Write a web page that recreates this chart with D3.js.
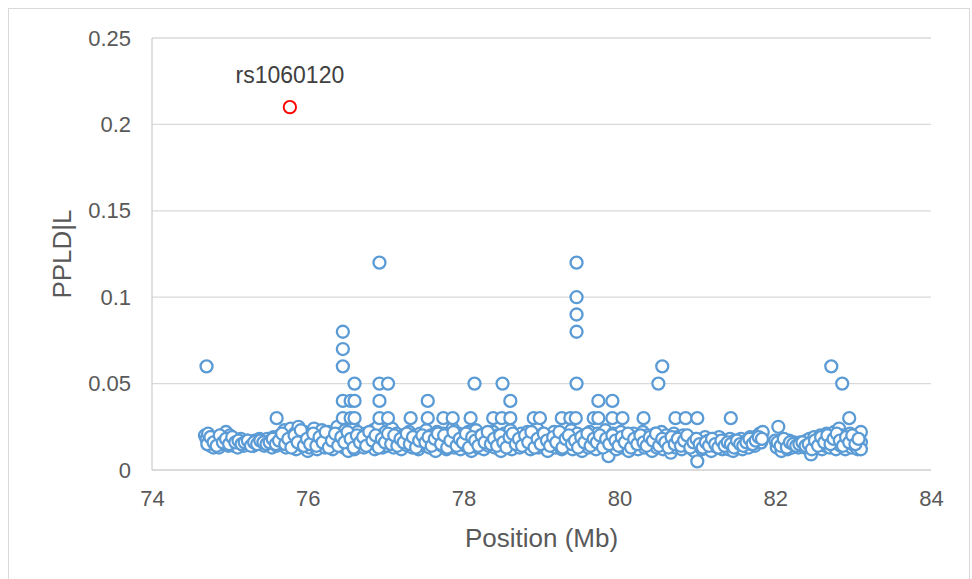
<!DOCTYPE html>
<html><head><meta charset="utf-8">
<script src="https://cdn.jsdelivr.net/npm/d3@7"></script>
<style>body{margin:0;background:#fff;font-family:"Liberation Sans",Arial,sans-serif;}</style>
</head><body>
<script>
// ---- data ----
const xTicks = [74, 76, 78, 80, 82, 84];
const yTicks = [0, 0.05, 0.1, 0.15, 0.2, 0.25];
const yTickLabels = ["0", "0.05", "0.1", "0.15", "0.2", "0.25"];

// dense background cluster (position Mb, PPLD|L)
const clusterPos = [74.68,74.70,74.72,74.73,74.75,74.76,74.78,74.79,74.80,74.82,74.83,74.85,74.86,74.88,74.90,74.92,74.95,74.96,74.98,75.00,75.02,75.04,75.05,75.07,75.09,75.10,75.12,75.14,75.16,75.18,75.20,75.22,75.25,75.27,75.30,75.32,75.34,75.36,75.38,75.40,75.42,75.44,75.46,75.48,75.50,75.52,75.54,75.56,75.58,75.60,75.62,75.64,75.66,75.70,75.72,75.75,75.78,75.80,75.83,75.85,75.88,75.90,75.93,75.95,75.98,76.00,76.02,76.04,76.06,76.08,76.10,76.12,76.14,76.16,76.18,76.20,76.22,76.24,76.26,76.28,76.30,76.32,76.34,76.36,76.38,76.40,76.42,76.44,76.46,76.48,76.50,76.52,76.54,76.56,76.58,76.60,76.62,76.64,76.66,76.68,76.70,76.72,76.74,76.76,76.78,76.80,76.82,76.84,76.86,76.88,76.90,76.92,76.94,76.96,76.98,77.00,77.02,77.04,77.06,77.08,77.10,77.12,77.14,77.16,77.18,77.20,77.22,77.24,77.26,77.28,77.30,77.32,77.34,77.36,77.38,77.40,77.42,77.44,77.46,77.48,77.50,77.52,77.54,77.56,77.58,77.60,77.62,77.64,77.66,77.68,77.70,77.72,77.74,77.76,77.78,77.80,77.82,77.84,77.86,77.88,77.90,77.92,77.94,77.96,77.98,78.00,78.02,78.04,78.06,78.08,78.10,78.12,78.14,78.16,78.18,78.20,78.22,78.24,78.26,78.28,78.30,78.32,78.34,78.36,78.38,78.40,78.42,78.44,78.46,78.48,78.50,78.52,78.54,78.56,78.58,78.60,78.62,78.64,78.66,78.68,78.70,78.72,78.74,78.76,78.78,78.80,78.82,78.84,78.86,78.88,78.90,78.92,78.94,78.96,78.98,79.00,79.02,79.04,79.06,79.08,79.10,79.12,79.14,79.16,79.18,79.20,79.22,79.24,79.26,79.28,79.30,79.32,79.34,79.36,79.38,79.40,79.42,79.44,79.46,79.48,79.50,79.52,79.54,79.56,79.58,79.60,79.62,79.64,79.66,79.68,79.70,79.72,79.74,79.76,79.78,79.80,79.82,79.84,79.86,79.88,79.90,79.92,79.94,79.96,79.98,80.00,80.02,80.04,80.06,80.08,80.10,80.12,80.14,80.16,80.18,80.20,80.22,80.24,80.26,80.28,80.30,80.32,80.34,80.36,80.38,80.40,80.42,80.44,80.46,80.48,80.50,80.52,80.54,80.56,80.58,80.60,80.62,80.64,80.66,80.68,80.70,80.72,80.74,80.76,80.78,80.80,80.82,80.84,80.86,80.88,80.90,80.92,80.94,80.96,80.98,81.00,81.02,81.04,81.06,81.08,81.10,81.12,81.14,81.16,81.18,81.20,81.22,81.24,81.26,81.28,81.30,81.32,81.34,81.36,81.38,81.40,81.42,81.44,81.46,81.48,81.50,81.52,81.54,81.56,81.58,81.60,81.62,81.64,81.66,81.68,81.70,81.72,81.74,81.76,81.78,81.80,81.82,81.84,82.00,82.02,82.04,82.06,82.08,82.10,82.12,82.14,82.16,82.18,82.20,82.22,82.24,82.26,82.28,82.30,82.32,82.34,82.36,82.38,82.40,82.42,82.44,82.46,82.48,82.50,82.52,82.54,82.56,82.58,82.60,82.62,82.64,82.66,82.68,82.70,82.72,82.74,82.76,82.78,82.80,82.82,82.84,82.86,82.88,82.90,82.92,82.94,82.96,82.98,83.00,83.02,83.04,83.06,83.08,83.10,83.10,83.10];
const clusterVal = [0.020,0.018,0.021,0.016,0.014,0.019,0.017,0.013,0.015,0.018,0.014,0.016,0.013,0.017,0.015,0.019,0.022,0.017,0.014,0.020,0.016,0.018,0.014,0.017,0.015,0.013,0.016,0.018,0.015,0.014,0.016,0.017,0.015,0.016,0.014,0.017,0.015,0.016,0.018,0.015,0.017,0.014,0.016,0.018,0.015,0.017,0.013,0.019,0.016,0.014,0.018,0.020,0.016,0.023,0.013,0.019,0.024,0.016,0.021,0.012,0.025,0.018,0.014,0.022,0.017,0.011,0.013,0.020,0.016,0.024,0.018,0.012,0.021,0.015,0.023,0.017,0.013,0.019,0.022,0.015,0.018,0.012,0.020,0.016,0.025,0.014,0.021,0.018,0.013,0.023,0.016,0.011,0.020,0.015,0.025,0.012,0.018,0.022,0.014,0.019,0.016,0.013,0.021,0.017,0.014,0.020,0.016,0.023,0.012,0.018,0.025,0.015,0.020,0.013,0.017,0.022,0.014,0.019,0.016,0.024,0.013,0.018,0.021,0.015,0.017,0.012,0.020,0.016,0.019,0.014,0.022,0.017,0.013,0.020,0.015,0.018,0.012,0.021,0.016,0.019,0.014,0.023,0.017,0.013,0.020,0.015,0.018,0.011,0.022,0.016,0.019,0.014,0.021,0.017,0.012,0.020,0.015,0.018,0.024,0.013,0.019,0.016,0.021,0.012,0.017,0.020,0.014,0.018,0.022,0.015,0.011,0.019,0.016,0.023,0.013,0.018,0.020,0.015,0.012,0.021,0.017,0.014,0.019,0.016,0.022,0.013,0.018,0.020,0.015,0.011,0.017,0.021,0.014,0.019,0.016,0.023,0.012,0.018,0.020,0.015,0.017,0.013,0.021,0.016,0.019,0.014,0.022,0.017,0.012,0.020,0.015,0.018,0.024,0.013,0.019,0.016,0.021,0.014,0.018,0.011,0.020,0.015,0.017,0.022,0.013,0.019,0.016,0.021,0.012,0.018,0.015,0.020,0.014,0.017,0.023,0.012,0.019,0.016,0.021,0.014,0.018,0.011,0.020,0.015,0.017,0.013,0.022,0.016,0.019,0.014,0.012,0.021,0.017,0.015,0.019,0.013,0.023,0.016,0.008,0.018,0.014,0.021,0.016,0.012,0.019,0.015,0.022,0.013,0.018,0.016,0.020,0.011,0.017,0.014,0.021,0.016,0.019,0.012,0.018,0.015,0.022,0.013,0.017,0.020,0.014,0.018,0.011,0.016,0.021,0.013,0.019,0.015,0.022,0.012,0.017,0.020,0.014,0.018,0.010,0.016,0.021,0.013,0.019,0.015,0.017,0.012,0.020,0.016,0.014,0.019,0.013,0.017,0.015,0.011,0.018,0.005,0.014,0.017,0.012,0.016,0.019,0.013,0.017,0.015,0.011,0.018,0.014,0.016,0.013,0.019,0.015,0.012,0.017,0.014,0.016,0.012,0.018,0.015,0.011,0.017,0.013,0.016,0.014,0.018,0.012,0.016,0.015,0.017,0.013,0.019,0.015,0.017,0.014,0.018,0.020,0.021,0.016,0.022,0.017,0.013,0.025,0.015,0.011,0.018,0.014,0.016,0.012,0.017,0.015,0.013,0.016,0.014,0.015,0.013,0.016,0.014,0.015,0.013,0.017,0.014,0.018,0.009,0.016,0.019,0.013,0.017,0.015,0.020,0.012,0.018,0.014,0.021,0.016,0.013,0.019,0.015,0.022,0.012,0.018,0.024,0.014,0.020,0.016,0.012,0.019,0.015,0.021,0.013,0.017,0.014,0.019,0.012,0.016,0.022,0.016,0.012];

// second, interleaved layer of the cluster
const clusterPos2 = [74.71,74.75,74.79,74.83,74.87,74.91,74.95,74.99,75.03,75.07,75.11,75.15,75.19,75.23,75.27,75.31,75.35,75.39,75.43,75.47,75.51,75.55,75.59,75.63,75.67,75.71,75.75,75.79,75.83,75.87,75.91,75.95,75.99,76.03,76.07,76.11,76.15,76.19,76.23,76.27,76.31,76.35,76.39,76.43,76.47,76.51,76.55,76.59,76.63,76.67,76.71,76.75,76.79,76.83,76.87,76.91,76.95,76.99,77.03,77.07,77.11,77.15,77.19,77.23,77.27,77.31,77.35,77.39,77.43,77.47,77.51,77.55,77.59,77.63,77.67,77.71,77.75,77.79,77.83,77.87,77.91,77.95,77.99,78.03,78.07,78.11,78.15,78.19,78.23,78.27,78.31,78.35,78.39,78.43,78.47,78.51,78.55,78.59,78.63,78.67,78.71,78.75,78.79,78.83,78.87,78.91,78.95,78.99,79.03,79.07,79.11,79.15,79.19,79.23,79.27,79.31,79.35,79.39,79.43,79.47,79.51,79.55,79.59,79.63,79.67,79.71,79.75,79.79,79.83,79.87,79.91,79.95,79.99,80.03,80.07,80.11,80.15,80.19,80.23,80.27,80.31,80.35,80.39,80.43,80.47,80.51,80.55,80.59,80.63,80.67,80.71,80.75,80.79,80.83,80.87,80.91,80.95,80.99,81.03,81.07,81.11,81.15,81.19,81.23,81.27,81.31,81.35,81.39,81.43,81.47,81.51,81.55,81.59,81.63,81.67,81.71,81.75,81.79,81.83,82.03,82.07,82.11,82.15,82.19,82.23,82.27,82.31,82.35,82.39,82.43,82.47,82.51,82.55,82.59,82.63,82.67,82.71,82.75,82.79,82.83,82.87,82.91,82.95,82.99,83.03,83.07];
const clusterVal2 = [0.015,0.019,0.016,0.014,0.020,0.016,0.018,0.015,0.019,0.016,0.017,0.015,0.016,0.017,0.014,0.016,0.015,0.017,0.016,0.015,0.016,0.018,0.015,0.017,0.021,0.015,0.018,0.013,0.020,0.016,0.023,0.014,0.018,0.015,0.021,0.014,0.019,0.016,0.022,0.013,0.017,0.021,0.014,0.019,0.016,0.022,0.018,0.013,0.020,0.016,0.019,0.014,0.022,0.017,0.020,0.013,0.018,0.016,0.021,0.015,0.020,0.014,0.018,0.016,0.021,0.015,0.019,0.013,0.017,0.020,0.016,0.019,0.014,0.018,0.021,0.015,0.020,0.013,0.017,0.022,0.014,0.018,0.016,0.021,0.013,0.019,0.017,0.014,0.020,0.016,0.022,0.015,0.018,0.014,0.020,0.016,0.013,0.019,0.021,0.015,0.018,0.014,0.020,0.016,0.022,0.013,0.018,0.015,0.021,0.017,0.014,0.019,0.016,0.022,0.013,0.018,0.020,0.015,0.017,0.013,0.019,0.016,0.021,0.014,0.018,0.016,0.020,0.013,0.018,0.015,0.020,0.017,0.014,0.019,0.016,0.021,0.013,0.018,0.015,0.020,0.016,0.014,0.019,0.017,0.021,0.014,0.018,0.016,0.013,0.019,0.015,0.018,0.014,0.017,0.020,0.013,0.016,0.018,0.015,0.013,0.016,0.014,0.018,0.015,0.013,0.017,0.014,0.016,0.015,0.013,0.017,0.015,0.014,0.016,0.018,0.015,0.017,0.019,0.018,0.016,0.014,0.018,0.013,0.016,0.015,0.014,0.015,0.016,0.014,0.015,0.012,0.017,0.014,0.019,0.016,0.020,0.015,0.018,0.021,0.017,0.014,0.019,0.016,0.020,0.015,0.018];

// points standing above the cluster
const highPos = [74.70,75.60,76.45,76.45,76.45,76.45,76.45,76.55,76.55,76.60,76.60,76.60,76.92,76.92,76.92,76.92,77.03,77.03,77.32,77.54,77.54,77.74,77.86,78.09,78.14,78.38,78.49,78.50,78.60,78.60,78.90,78.98,79.26,79.37,79.45,79.45,79.45,79.45,79.45,79.44,79.67,79.73,79.73,79.91,79.91,80.04,80.31,80.50,80.55,80.72,80.85,81.00,81.43,82.72,82.86,82.95];
const highVal = [0.06,0.03,0.08,0.07,0.06,0.04,0.03,0.04,0.03,0.05,0.04,0.03,0.12,0.05,0.04,0.03,0.05,0.03,0.03,0.04,0.03,0.03,0.03,0.03,0.05,0.03,0.03,0.05,0.04,0.03,0.03,0.03,0.03,0.03,0.12,0.10,0.09,0.08,0.05,0.03,0.03,0.04,0.03,0.04,0.03,0.03,0.03,0.05,0.06,0.03,0.03,0.03,0.03,0.06,0.05,0.03];

// highlighted SNP
const snpName = ["rs1060120"];
const snpPos = [75.77];
const snpVal = [0.21];

// ---- chart ----
const W = 972, H = 579;
const m = {left: 152, right: 931, top: 38, bottom: 470};
const FONT = "Liberation Sans, Arial, sans-serif";
const svg = d3.select("body").append("svg").attr("width", W).attr("height", H);

svg.append("rect").attr("x", 8.5).attr("y", 8.5).attr("width", 961).attr("height", 600)
  .attr("fill", "#fff").attr("stroke", "#d9d9d9").attr("stroke-width", 1);

const x = d3.scaleLinear().domain([74, 84]).range([m.left, m.right]);
const y = d3.scaleLinear().domain([0, 0.25]).range([m.bottom, m.top]);

// gridlines
svg.append("g").selectAll("line").data(yTicks.slice(1)).join("line")
  .attr("x1", m.left).attr("x2", m.right)
  .attr("y1", d => y(d)).attr("y2", d => y(d))
  .attr("stroke", "#d9d9d9").attr("stroke-width", 1.3);

// axis lines
svg.append("line").attr("x1", m.left).attr("x2", m.left).attr("y1", m.top).attr("y2", m.bottom)
  .attr("stroke", "#d0d0d0").attr("stroke-width", 1.3);
svg.append("line").attr("x1", m.left).attr("x2", m.right).attr("y1", m.bottom).attr("y2", m.bottom)
  .attr("stroke", "#cfcfcf").attr("stroke-width", 1.3);

// tick labels via axes
const yAxis = d3.axisLeft(y).tickValues(yTicks).tickSize(0).tickPadding(21)
  .tickFormat((d, i) => yTickLabels[i]);
const gy = svg.append("g").attr("transform", `translate(${m.left},0)`).call(yAxis);
gy.select(".domain").remove();
gy.selectAll("text").attr("fill", "#595959").style("font-size", "22px").style("font-family", FONT);

const xAxis = d3.axisBottom(x).tickValues(xTicks).tickSize(0).tickPadding(20).tickFormat(d3.format("d"));
const gx = svg.append("g").attr("transform", `translate(0,${m.bottom})`).call(xAxis);
gx.select(".domain").remove();
gx.selectAll("text").attr("fill", "#595959").style("font-size", "22px").style("font-family", FONT);

// axis titles
svg.append("text").attr("x", (m.left + m.right) / 2).attr("y", 547)
  .attr("text-anchor", "middle").attr("fill", "#595959").style("font-size", "26px").style("font-family", FONT)
  .text("Position (Mb)");
svg.append("text").attr("transform", `translate(71,${(m.top + m.bottom) / 2}) rotate(-90)`)
  .attr("text-anchor", "middle").attr("fill", "#595959").style("font-size", "26px").style("font-family", FONT)
  .text("PPLD|L");

// points
const toPts = (ps, vs) => ps.map((p, i) => ({p, v: vs[i]}));
const all = toPts(clusterPos, clusterVal)
  .concat(toPts(clusterPos2, clusterVal2))
  .concat(toPts(highPos, highVal));
svg.append("g").selectAll("circle").data(all).join("circle")
  .attr("cx", d => x(d.p)).attr("cy", d => y(d.v)).attr("r", 6)
  .attr("fill", "#fff").attr("stroke", "#5b9bd5").attr("stroke-width", 2.3);

const snp = snpPos.map((p, i) => ({p, v: snpVal[i], name: snpName[i]}));
svg.append("g").selectAll("circle").data(snp).join("circle")
  .attr("cx", d => x(d.p)).attr("cy", d => y(d.v)).attr("r", 6.2)
  .attr("fill", "#fff").attr("stroke", "#ff0000").attr("stroke-width", 1.9);
svg.append("g").selectAll("text").data(snp).join("text")
  .attr("x", d => x(d.p)).attr("y", d => y(d.v) - 24)
  .attr("text-anchor", "middle").attr("fill", "#404040").style("font-size", "23px").style("font-family", FONT)
  .text(d => d.name);
</script>
</body></html>
